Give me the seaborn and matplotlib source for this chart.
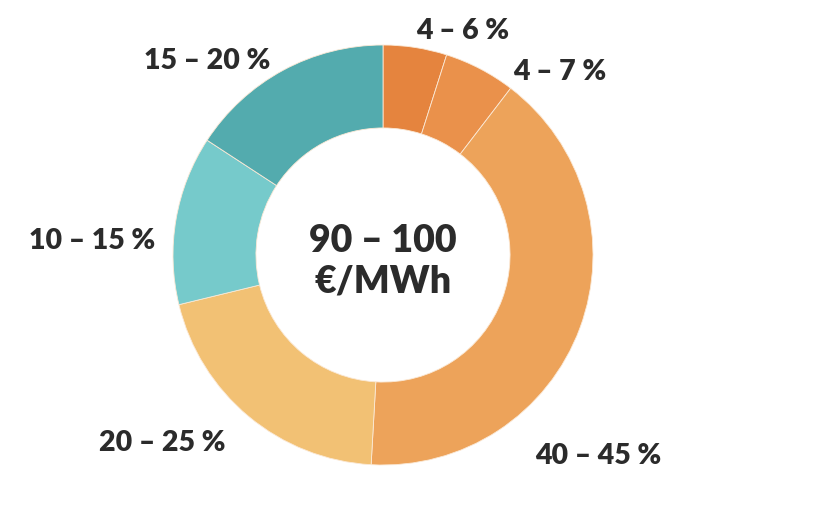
import matplotlib
matplotlib.use("Agg")
import matplotlib.pyplot as plt
import seaborn as sns

# --- Data ---
labels = ["4 – 6 %", "4 – 7 %", "40 – 45 %", "20 – 25 %", "10 – 15 %", "15 – 20 %"]
shares = [4.9, 5.5, 40.5, 20.3, 13.0, 15.8]
center_label = "90 – 100\n€/MWh"

colors = ["#E5843E", "#EA914B", "#EDA35A", "#F2C174", "#76CACB", "#53ABAE"]

# label positions in figure pixels (x, y from top)
label_px = [(463, 31), (560, 72), (598, 456), (162, 443), (92, 241), (207, 61)]

sns.set_theme(style="white")
plt.rcParams["font.family"] = ["Lato", "DejaVu Sans"]

W, H = 824, 517
fig = plt.figure(figsize=(W / 100, H / 100), dpi=100)
fig.patch.set_facecolor("white")

# donut centre at (383, 255) px, outer radius 210 px
cx, cy, r = 383, 255, 210
ax = fig.add_axes([(cx - r) / W, (H - cy - r) / H, 2 * r / W, 2 * r / H])

wedges, _ = ax.pie(
    shares,
    colors=colors,
    startangle=90,
    counterclock=False,
    radius=1.0,
    wedgeprops=dict(width=0.395, edgecolor="#fbe9d6", linewidth=0.6),
)
ax.set_xlim(-1, 1)
ax.set_ylim(-1, 1)
ax.set_aspect("equal")
ax.axis("off")

ax.text(0, -0.03, center_label, ha="center", va="center", fontsize=27,
        fontweight="heavy", color="#2b2b2b", linespacing=1.2)

for lab, (px, py) in zip(labels, label_px):
    fig.text(px / W, 1 - py / H, lab, ha="center", va="center", fontsize=20.5,
             fontweight="heavy", color="#2b2b2b")

fig.savefig("out.png", dpi=100, facecolor="white")
